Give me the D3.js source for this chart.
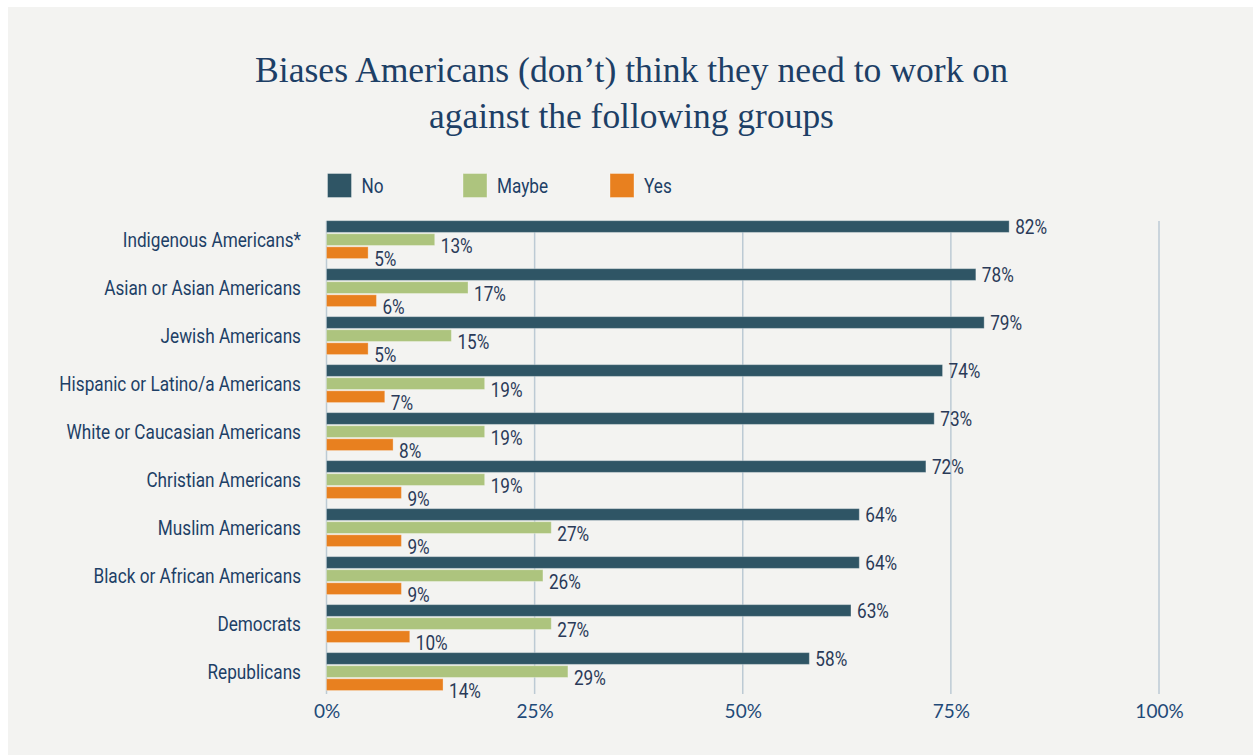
<!DOCTYPE html>
<html>
<head>
<meta charset="utf-8">
<script src="https://cdn.jsdelivr.net/npm/d3@7"></script>
<style>
  body { margin: 0; background: #ffffff; }
  svg { display: block; }
</style>
</head>
<body>
<svg id="chart" width="1253" height="755"></svg>
<script>
// ---- data ----
const titleLines = ["Biases Americans (don\u2019t) think they need to work on", "against the following groups"];
const categories = [
  "Indigenous Americans*",
  "Asian or Asian Americans",
  "Jewish Americans",
  "Hispanic or Latino/a Americans",
  "White or Caucasian Americans",
  "Christian Americans",
  "Muslim Americans",
  "Black or African Americans",
  "Democrats",
  "Republicans"
];
const seriesNames = ["No", "Maybe", "Yes"];
const noValues    = [82, 78, 79, 74, 73, 72, 64, 64, 63, 58];
const maybeValues = [13, 17, 15, 19, 19, 19, 27, 26, 27, 29];
const yesValues   = [5, 6, 5, 7, 8, 9, 9, 9, 10, 14];
const tickValues  = [0, 25, 50, 75, 100];
const tickLabels  = ["0%", "25%", "50%", "75%", "100%"];

// ---- styling ----
const colors = { No: "#2f5565", Maybe: "#adc47e", Yes: "#e8801f" };
const navy = "#1d3f66";
const labelInk = "#2a3a58";
const gridInk = "#bccad4";
const narrowFont = "Roboto, 'Liberation Sans', sans-serif";
const narrowSize = 20;
const narrowSqueeze = 0.86;   // condensed look for the sans labels
const serifFont = "'Liberation Serif', 'DejaVu Serif', serif";
const tickFont = "Lato, 'Open Sans', sans-serif";

const svg = d3.select("#chart");

// places a condensed text: anchor point (px, py), horizontal squeeze
function condensed(sel, px, py) {
  return sel
    .attr("x", 0).attr("y", 0)
    .attr("transform", (d, i) => `translate(${px(d, i)},${py(d, i)}) scale(${narrowSqueeze},1)`)
    .attr("font-family", narrowFont)
    .attr("font-size", narrowSize)
    .attr("dy", "0.36em");
}

// panel background
svg.append("rect")
  .attr("x", 8).attr("y", 7)
  .attr("width", 1253 - 8).attr("height", 755 - 7)
  .attr("fill", "#f3f3f1");

// scales
const x = d3.scaleLinear().domain([0, 100]).range([326.5, 1159]);
const y0 = d3.scaleBand().domain(categories).range([212.5, 698.7])
  .paddingInner(0.21).paddingOuter(0.17);
const y1 = d3.scaleBand().domain(seriesNames).range([0, y0.bandwidth()])
  .paddingInner(0.1);

const gridTop = 221, gridBottom = 694;

// title, fitted to the line widths
const titleWidths = [753, 405];
const titleBaselines = [82, 128];
titleLines.forEach((line, i) => {
  const t = svg.append("text")
    .attr("x", 631.5).attr("y", titleBaselines[i])
    .attr("text-anchor", "middle")
    .attr("font-family", serifFont)
    .attr("font-size", 34)
    .attr("fill", navy)
    .text(line);
  const w = t.node().getComputedTextLength();
  t.attr("font-size", 34 * titleWidths[i] / w);
});

// legend
const legendX = [327.5, 463, 610];
const legend = svg.append("g");
legend.selectAll("rect")
  .data(seriesNames)
  .join("rect")
  .attr("x", (d, i) => legendX[i]).attr("y", 173.5)
  .attr("width", 24).attr("height", 24)
  .attr("fill", d => colors[d])
  .attr("stroke", "#ffffff").attr("stroke-opacity", 0.35).attr("stroke-width", 1);
legend.selectAll("text")
  .data(seriesNames)
  .join("text")
  .call(condensed, (d, i) => legendX[i] + 34, () => 185.5)
  .attr("fill", navy)
  .text(d => d);

// vertical gridlines
svg.append("g").selectAll("line")
  .data(tickValues)
  .join("line")
  .attr("x1", d => x(d)).attr("x2", d => x(d))
  .attr("y1", gridTop).attr("y2", gridBottom)
  .attr("stroke", gridInk).attr("stroke-width", 1.5);

// x axis labels
const xAxis = d3.axisBottom(x)
  .tickValues(tickValues)
  .tickFormat((d, i) => tickLabels[i])
  .tickSize(0)
  .tickPadding(11);
const ax = svg.append("g")
  .attr("transform", `translate(0,${gridBottom})`)
  .call(xAxis);
ax.select(".domain").remove();
ax.selectAll("text")
  .attr("font-family", tickFont)
  .attr("font-size", 19)
  .attr("fill", "#1f4a78");

// category labels
svg.append("g").selectAll("text")
  .data(categories)
  .join("text")
  .call(condensed, () => 301, d => y0(d) + y0.bandwidth() / 2)
  .attr("text-anchor", "end")
  .attr("fill", navy)
  .text(d => d);

// bars
const seriesValues = { No: noValues, Maybe: maybeValues, Yes: yesValues };
const rows = categories.flatMap((c, i) =>
  seriesNames.map(s => ({ category: c, series: s, value: seriesValues[s][i] })));

const labelShift = { No: 0, Maybe: 6, Yes: 6 };

svg.append("g").selectAll("rect")
  .data(rows)
  .join("rect")
  .attr("x", x(0))
  .attr("y", d => y0(d.category) + y1(d.series))
  .attr("width", d => x(d.value) - x(0))
  .attr("height", y1.bandwidth())
  .attr("fill", d => colors[d.series])
  .attr("stroke", "#ffffff").attr("stroke-opacity", 0.3).attr("stroke-width", 1);

// value labels
svg.append("g").selectAll("text")
  .data(rows)
  .join("text")
  .call(condensed,
    d => x(d.value) + 6,
    d => y0(d.category) + y1(d.series) + y1.bandwidth() / 2 + labelShift[d.series])
  .attr("fill", labelInk)
  .text(d => d.value + "%");
</script>
</body>
</html>
